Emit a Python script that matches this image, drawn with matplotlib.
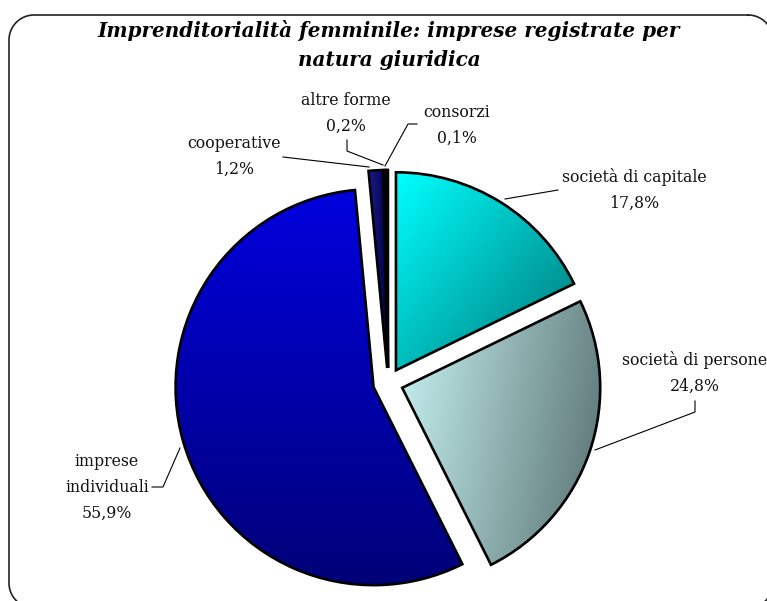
import numpy as np
import matplotlib.pyplot as plt
from matplotlib.colors import to_rgb

# data
categories = ['società di capitale', 'società di persone', 'imprese\nindividuali',
              'cooperative', 'altre forme', 'consorzi']
shares = [17.8, 24.8, 55.9, 1.2, 0.2, 0.1]
title = 'Imprenditorialità femminile: imprese registrate per\nnatura giuridica'

W, H = 767, 601


def py(y):
    # pixel row (from top) -> data y
    return H - y


def rounded_box(x0, y0, x1, y1, r, n=24):
    # closed outline of a rounded rectangle as plain points (pixel rows from top)
    pts = []
    corners = [(x1 - r, y0 + r, -90, 0), (x1 - r, y1 - r, 0, 90),
               (x0 + r, y1 - r, 90, 180), (x0 + r, y0 + r, 180, 270)]
    for ccx, ccy, a0, a1 in corners:
        t = np.deg2rad(np.linspace(a0, a1, n))
        pts += list(zip(ccx + r * np.cos(t), ccy + r * np.sin(t)))
    pts.append(pts[0])
    return np.array(pts)


# gradient (start colour, end colour, direction in degrees) for each slice
fills = [('#00ffff', '#007575', -40),
         ('#c8f2f2', '#556d6d', -10),
         ('#0000de', '#000078', -90),
         ('#1a1a90', '#000040', 0),
         ('#000000', '#000000', 0),
         ('#000000', '#000000', 0)]

# label centres and leader lines, in pixels
label_pos = [(634, 190), (695, 373), (107, 487), (234, 156), (346, 113), (457, 125)]
leaders = [[(505, 199), (558, 190)],
           [(595, 450), (695, 412), (695, 401)],
           [(180, 448), (163, 487), (152, 487)],
           [(369, 167), (283, 157)],
           [(383, 165), (347, 151), (347, 140)],
           [(385, 166), (408, 124), (417, 124)]]

fig = plt.figure(figsize=(7.67, 6.01), dpi=100)
ax = fig.add_axes([0, 0, 1, 1])

R = 198
cx, cy = 388, py(383)
wedges, _ = ax.pie(shares, radius=R, center=(cx, cy), startangle=90, counterclock=False,
                   explode=[15] * len(shares),
                   wedgeprops=dict(edgecolor='black', linewidth=1.9, facecolor='none', zorder=3))

# gradient fills clipped to each wedge
for w, (c0, c1, ang) in zip(wedges, fills):
    verts = w.get_path().vertices
    xmin, ymin = verts.min(axis=0)
    xmax, ymax = verts.max(axis=0)
    n = 120
    gx, gy = np.meshgrid(np.linspace(xmin, xmax, n), np.linspace(ymin, ymax, n))
    d = np.deg2rad(ang)
    t = gx * np.cos(d) + gy * np.sin(d)
    t = (t - t.min()) / max(t.max() - t.min(), 1e-9)
    a, b = np.array(to_rgb(c0)), np.array(to_rgb(c1))
    img = a + (b - a) * t[..., None]
    im = ax.imshow(img, extent=(xmin, xmax, ymin, ymax), origin='lower',
                   interpolation='bilinear', aspect='auto', zorder=2)
    im.set_clip_path(w)

for cat, val, (lx, ly) in zip(categories, shares, label_pos):
    pct = f'{val:.1f}'.replace('.', ',') + '%'
    ax.text(lx, py(ly), f'{cat}\n{pct}', ha='center', va='center', fontsize=11.3,
            family='DejaVu Serif', linespacing=1.68, color='#111111', zorder=4)

for pts in leaders:
    xs = [p[0] for p in pts]
    ys = [py(p[1]) for p in pts]
    ax.plot(xs, ys, color='black', lw=0.8, zorder=4)

ax.text(389, py(45), title, ha='center', va='center', fontsize=14.4, family='DejaVu Serif',
        fontweight='bold', fontstyle='italic', linespacing=1.55, zorder=4)

# outer frame, partly running off the right and bottom edges like the original
box = rounded_box(9, 15, 773, 608, 25)
ax.plot(box[:, 0], py(box[:, 1]), color='#222222', lw=1.2, zorder=5)

ax.set_xlim(0, W)
ax.set_ylim(0, H)
ax.set_aspect('auto')
ax.axis('off')

fig.savefig('out.png', dpi=100, facecolor='white')
